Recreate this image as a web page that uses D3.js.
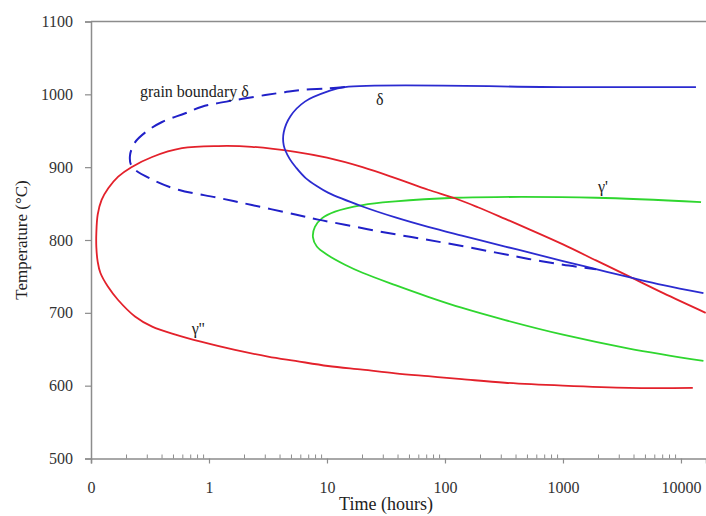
<!DOCTYPE html>
<html>
<head>
<meta charset="utf-8">
<script src="https://cdn.jsdelivr.net/npm/d3@7"></script>
<style>
  body { margin: 0; background: #fff; }
  svg { display: block; font-family: "Liberation Serif", "Times New Roman", serif; }
</style>
</head>
<body>
<svg id="chart" width="706" height="516"></svg>
<script>
// [hours, temperature] pairs
const gammaDoublePrime = [
  [16200, 700], [7080, 727], [3630, 750], [1905, 772], [1000, 794], [513, 815],
  [324, 829], [190, 845], [123, 857], [72, 869], [38, 885], [20, 900], [10, 913],
  [5.4, 921], [2.3, 928], [1.2, 929], [0.59, 926], [0.33, 914],
  [0.22, 900], [0.17, 887], [0.14, 871], [0.123, 855], [0.114, 835], [0.111, 810],
  [0.111, 790], [0.114, 770], [0.12, 755], [0.139, 736], [0.169, 718], [0.236, 695],
  [0.33, 681], [0.52, 670], [0.87, 660], [1.66, 649], [3.16, 640], [5.4, 634],
  [10.2, 627], [20, 622], [38, 617], [72, 613], [139, 609], [322, 604], [1000, 600],
  [3630, 597], [12600, 597]
];
const delta = [
  [13400, 1010], [1000, 1010], [14.2, 1010], [10.2, 1004], [6.5, 990], [4.9, 970],
  [4.3, 948], [4.3, 930], [4.8, 912], [5.5, 899], [6.6, 885], [8.2, 874], [10.2, 865],
  [20, 846], [38, 831], [72, 818], [139, 806], [324, 791], [513, 783], [1000, 771],
  [1905, 760], [3630, 749], [7080, 738], [15500, 727]
];
const grainBoundaryDelta = [
  [14.2, 1010], [10.2, 1008], [6.1, 1006], [4.4, 1003], [3.0, 999], [1.66, 992],
  [0.87, 983], [0.63, 974], [0.4, 962], [0.29, 948], [0.236, 934], [0.214, 916],
  [0.222, 901], [0.33, 883], [0.55, 869], [1.19, 858], [2.31, 848], [5.4, 835],
  [8.4, 828], [14.2, 821], [27, 812], [52, 804], [100, 796], [265, 783],
  [513, 774], [1000, 766], [1905, 760]
];
const gammaPrime = [
  [14800, 852], [1905, 858], [270, 859], [122, 858], [38, 853], [20, 848],
  [11.7, 839], [9.1, 830], [7.9, 818], [7.6, 804], [8.2, 791], [10.2, 779],
  [14.2, 766], [20, 755], [38, 738], [72, 722], [138, 707], [324, 690],
  [1000, 670], [3630, 651], [15500, 634]
];

const xTicks = [0.1, 1, 10, 100, 1000, 10000];
const xTickLabels = ["0", "1", "10", "100", "1000", "10000"];
const yTicks = [500, 600, 700, 800, 900, 1000, 1100];

// curve labels: text, hours, temperature
const labels = [
  ["grain boundary \u03b4", 0.26, 996, "start"],
  ["\u03b4", 28, 985, "middle"],
  ["\u03b3'", 2180, 866, "middle"],
  ["\u03b3''", 0.81, 671, "middle"]
];

const svg = d3.select("#chart");
const x = d3.scaleLog().domain([0.1, 16300]).range([91, 706]);
const y = d3.scaleLinear().domain([500, 1100]).range([458.5, 21.5]);

const axisColor = "#8c8c8c";
const textColor = "#333";

// y axis
const yAxis = svg.append("g")
  .attr("transform", "translate(91,0)")
  .call(d3.axisLeft(y).tickValues(yTicks).tickSize(6).tickPadding(12).tickFormat(d3.format("d")))
  .attr("font-family", null).attr("font-size", null);
yAxis.select(".domain").attr("stroke", axisColor).attr("stroke-width", 1.5);
yAxis.selectAll(".tick line").attr("stroke", axisColor).attr("stroke-width", 1.2);
yAxis.selectAll("text").attr("fill", textColor).style("font-size", "16px");

// x axis
const xAxis = svg.append("g")
  .attr("transform", "translate(0," + y(500) + ")")
  .call(d3.axisBottom(x).tickValues(xTicks).tickSize(5).tickPadding(18)
    .tickFormat((d, i) => xTickLabels[i]))
  .attr("font-family", null).attr("font-size", null);
xAxis.select(".domain").attr("stroke", axisColor).attr("stroke-width", 1.5);
xAxis.selectAll(".tick line").attr("stroke", axisColor).attr("stroke-width", 1.2);
xAxis.selectAll("text").attr("fill", textColor).style("font-size", "16px");

// minor ticks on the time axis
const minor = [];
xTicks.forEach(function(d) {
  for (let k = 2; k <= 9; k++) if (d * k < 16300) minor.push(d * k);
});
svg.append("g").selectAll("line").data(minor).enter().append("line")
  .attr("x1", d => x(d)).attr("x2", d => x(d))
  .attr("y1", y(500) - 4).attr("y2", y(500))
  .attr("stroke", axisColor).attr("stroke-width", 1);

// top frame line
svg.append("line")
  .attr("x1", x(0.1)).attr("x2", x(16300))
  .attr("y1", y(1100)).attr("y2", y(1100))
  .attr("stroke", axisColor).attr("stroke-width", 1.5);

// axis titles
svg.append("text")
  .attr("x", (x(0.1) + x(10000)) / 2).attr("y", 510)
  .attr("text-anchor", "middle").attr("fill", "#222")
  .style("font-size", "18px").text("Time (hours)");
svg.append("text")
  .attr("transform", "translate(27," + y(800) + ") rotate(-90)")
  .attr("text-anchor", "middle").attr("fill", "#222")
  .style("font-size", "17px").text("Temperature (\u00b0C)");

const line = d3.line()
  .x(d => x(d[0]))
  .y(d => y(d[1]))
  .curve(d3.curveCatmullRom.alpha(0.5));

svg.append("path").datum(gammaPrime)
  .attr("fill", "none").attr("stroke", "#2fd62f").attr("stroke-width", 1.8)
  .attr("d", line);
svg.append("path").datum(gammaDoublePrime)
  .attr("fill", "none").attr("stroke", "#e3212b").attr("stroke-width", 1.8)
  .attr("d", line);
svg.append("path").datum(delta)
  .attr("fill", "none").attr("stroke", "#2b2bd0").attr("stroke-width", 1.8)
  .attr("d", line);
svg.append("path").datum(grainBoundaryDelta)
  .attr("fill", "none").attr("stroke", "#2020c8").attr("stroke-width", 2)
  .attr("stroke-dasharray", "15,8")
  .attr("d", line);

svg.append("g").selectAll("text").data(labels).enter().append("text")
  .attr("x", d => x(d[1])).attr("y", d => y(d[2]))
  .attr("text-anchor", d => d[3])
  .attr("fill", "#222")
  .style("font-size", "16px")
  .text(d => d[0]);
</script>
</body>
</html>
